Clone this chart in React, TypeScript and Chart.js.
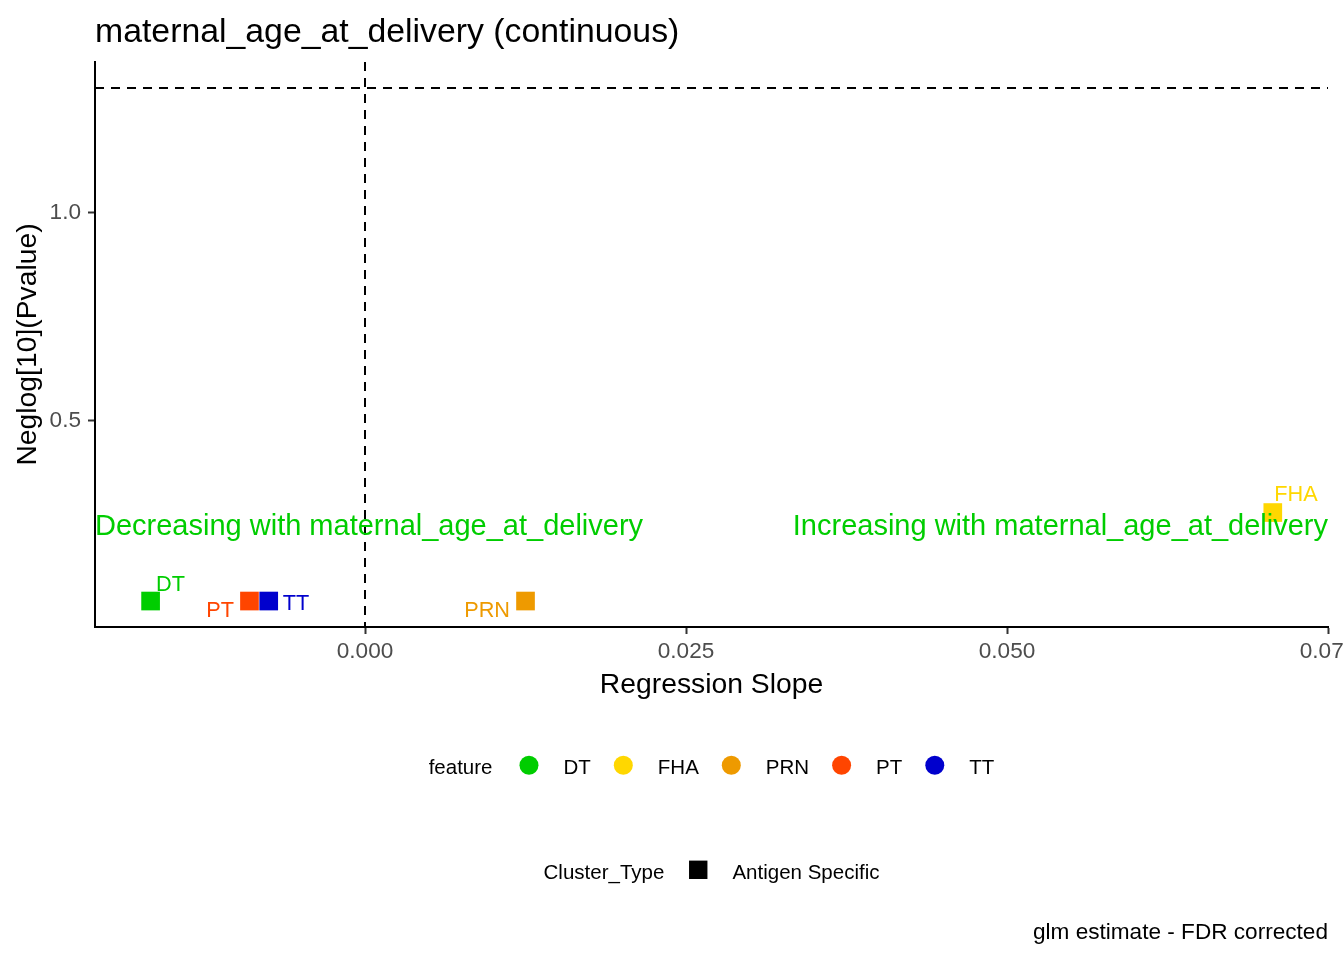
import React, { useEffect, useRef } from 'react'
import { Chart, registerables } from 'chart.js'

Chart.register(...registerables)

const FONT = '"Liberation Sans", Arial, Helvetica, sans-serif'

// values
const features = ['DT', 'FHA', 'PRN', 'PT', 'TT']
const slopes = [-0.0167, 0.0707, 0.0125, -0.009, -0.0075]
const negLogP = [0.0655, 0.2785, 0.0655, 0.0655, 0.0655]
const clusterTypes = ['Antigen Specific']
const xTicks = [0, 0.025, 0.05, 0.075]
const yTicks = [0.5, 1.0]
const xRange = [-0.02103, 0.075]
const yRange = [0.003, 1.363]
const sigThreshold = 1.301 // -log10(0.05)
const trendLabelY = 0.243

const featureColors = ['#00CD00', '#FFD700', '#EE9A00', '#FF4500', '#0000CD']
// where each point's text sits relative to the point: [dx, dy, align]
const labelNudge: [number, number, CanvasTextAlign][] = [
  [5.5, -10, 'left'],
  [1.5, -12, 'left'],
  [-15.5, 16, 'right'],
  [-15.5, 16, 'right'],
  [14, 9, 'left']
]

const overlayPlugin = {
  id: 'overlay',
  beforeDatasetsDraw(chart: any) {
    const { ctx, chartArea: a, scales } = chart
    ctx.save()
    ctx.strokeStyle = '#000'
    ctx.lineWidth = 2
    ctx.setLineDash([9, 7])
    const hy = Math.round(scales.y.getPixelForValue(sigThreshold))
    ctx.beginPath()
    ctx.moveTo(a.left, hy)
    ctx.lineTo(a.right, hy)
    ctx.stroke()
    const vx = Math.round(scales.x.getPixelForValue(0))
    ctx.beginPath()
    ctx.moveTo(vx, a.top)
    ctx.lineTo(vx, a.bottom)
    ctx.stroke()
    ctx.restore()
  },
  afterDatasetsDraw(chart: any) {
    const { ctx, chartArea: a, scales } = chart
    ctx.save()
    // point labels
    ctx.font = `21.7px ${FONT}`
    ctx.textBaseline = 'alphabetic'
    features.forEach((f, i) => {
      const px = scales.x.getPixelForValue(slopes[i])
      const py = scales.y.getPixelForValue(negLogP[i])
      const [dx, dy, align] = labelNudge[i]
      ctx.fillStyle = featureColors[i]
      ctx.textAlign = align
      ctx.fillText(f, px + dx, py + dy)
    })
    // trend annotations
    ctx.font = `29px ${FONT}`
    ctx.fillStyle = '#00CD00'
    ctx.textBaseline = 'middle'
    const ty = scales.y.getPixelForValue(trendLabelY)
    ctx.textAlign = 'left'
    ctx.fillText('Decreasing with maternal_age_at_delivery', a.left, ty)
    ctx.textAlign = 'right'
    ctx.fillText('Increasing with maternal_age_at_delivery', a.right, ty)
    ctx.restore()
  },
  afterDraw(chart: any) {
    const { ctx, chartArea: a } = chart
    const midX = (a.left + a.right) / 2
    ctx.save()
    ctx.fillStyle = '#000'
    ctx.textBaseline = 'alphabetic'

    // title
    ctx.font = `33.8px ${FONT}`
    ctx.textAlign = 'left'
    ctx.fillText('maternal_age_at_delivery (continuous)', a.left, 42)

    // axis titles
    ctx.font = `28.3px ${FONT}`
    ctx.textAlign = 'center'
    ctx.fillText('Regression Slope', midX, 693)
    ctx.save()
    ctx.translate(36, (a.top + a.bottom) / 2)
    ctx.rotate(-Math.PI / 2)
    ctx.fillText('Neglog[10](Pvalue)', 0, 0)
    ctx.restore()

    // legend: feature
    ctx.font = `20.5px ${FONT}`
    ctx.textAlign = 'left'
    const key = 19
    const titleGap = 27
    const labelGap = 25
    const itemGap = 23
    const tW = ctx.measureText('feature').width
    let total = tW
    features.forEach((f) => {
      total += titleGap + key + labelGap + ctx.measureText(f).width
    })
    total -= (titleGap - itemGap) * (features.length - 1)
    let cx = midX - total / 2
    const row1 = 774
    ctx.fillText('feature', cx, row1)
    cx += tW
    features.forEach((f, i) => {
      cx += i === 0 ? titleGap : itemGap
      ctx.fillStyle = featureColors[i]
      ctx.beginPath()
      ctx.arc(cx + key / 2, row1 - 8.7, key / 2, 0, Math.PI * 2)
      ctx.fill()
      cx += key + labelGap
      ctx.fillStyle = '#000'
      ctx.fillText(f, cx, row1)
      cx += ctx.measureText(f).width
    })

    // legend: cluster type
    const row2 = 879
    const sq = 18.4
    const ctW = ctx.measureText('Cluster_Type').width
    const lblW = ctx.measureText(clusterTypes[0]).width
    const total2 = ctW + 24.7 + sq + labelGap + lblW
    let cx2 = midX - total2 / 2
    ctx.fillText('Cluster_Type', cx2, row2)
    cx2 += ctW + 24.7
    ctx.fillRect(cx2, row2 - sq, sq, sq)
    cx2 += sq + labelGap
    ctx.fillText(clusterTypes[0], cx2, row2)

    // caption
    ctx.font = `22.6px ${FONT}`
    ctx.textAlign = 'right'
    ctx.fillText('glm estimate - FDR corrected', a.right, 939)
    ctx.restore()
  }
}

const App = () => {
  const chartRef = useRef<HTMLCanvasElement>(null)
  const chartInstanceRef = useRef<Chart | null>(null)

  useEffect(() => {
    const ctx = chartRef.current!.getContext('2d')!

    const datasets = features.map((f, i) => ({
      label: f,
      data: [{ x: slopes[i], y: negLogP[i] }],
      backgroundColor: featureColors[i],
      borderWidth: 0,
      pointStyle: 'rect',
      pointRadius: 13.2,
      pointHoverRadius: 13.2
    }))

    const tickFont = { size: 22.6, family: FONT }

    chartInstanceRef.current = new Chart(ctx, {
      type: 'scatter',
      data: { datasets },
      plugins: [overlayPlugin],
      options: {
        responsive: false,
        animation: false,
        events: [],
        layout: { autoPadding: false, padding: { top: 62, right: 16, bottom: 0, left: 0 } },
        plugins: {
          legend: { display: false },
          title: { display: false },
          tooltip: { enabled: false }
        },
        scales: {
          x: {
            type: 'linear',
            min: xRange[0],
            max: xRange[1],
            afterBuildTicks: (s: any) => {
              s.ticks = xTicks.map((v) => ({ value: v }))
            },
            afterFit: (s: any) => {
              s.height = 333
              s.paddingLeft = 0
              s.paddingRight = 0
            },
            ticks: {
              autoSkip: false,
              maxRotation: 0,
              color: '#4D4D4D',
              font: tickFont,
              padding: 4,
              callback: (v: any) => Number(v).toFixed(3)
            },
            grid: { drawOnChartArea: false, drawTicks: true, tickLength: 7, tickColor: '#333333', tickWidth: 2 },
            border: { display: true, color: '#000', width: 2 }
          },
          y: {
            type: 'linear',
            min: yRange[0],
            max: yRange[1],
            afterBuildTicks: (s: any) => {
              s.ticks = yTicks.map((v) => ({ value: v }))
            },
            afterFit: (s: any) => {
              s.width = 95
              s.paddingTop = 0
              s.paddingBottom = 0
            },
            ticks: {
              autoSkip: false,
              color: '#4D4D4D',
              font: tickFont,
              padding: 7,
              callback: (v: any) => Number(v).toFixed(1)
            },
            grid: { drawOnChartArea: false, drawTicks: true, tickLength: 7, tickColor: '#333333', tickWidth: 2 },
            border: { display: true, color: '#000', width: 2 }
          }
        }
      } as any
    })

    return () => {
      chartInstanceRef.current?.destroy()
    }
  }, [])

  return (
    <div style={{ position: 'absolute', left: 0, top: 0, width: 1344, height: 960, background: '#fff' }}>
      <canvas ref={chartRef} width={1344} height={960} style={{ display: 'block' }}></canvas>
    </div>
  )
}

export default App
